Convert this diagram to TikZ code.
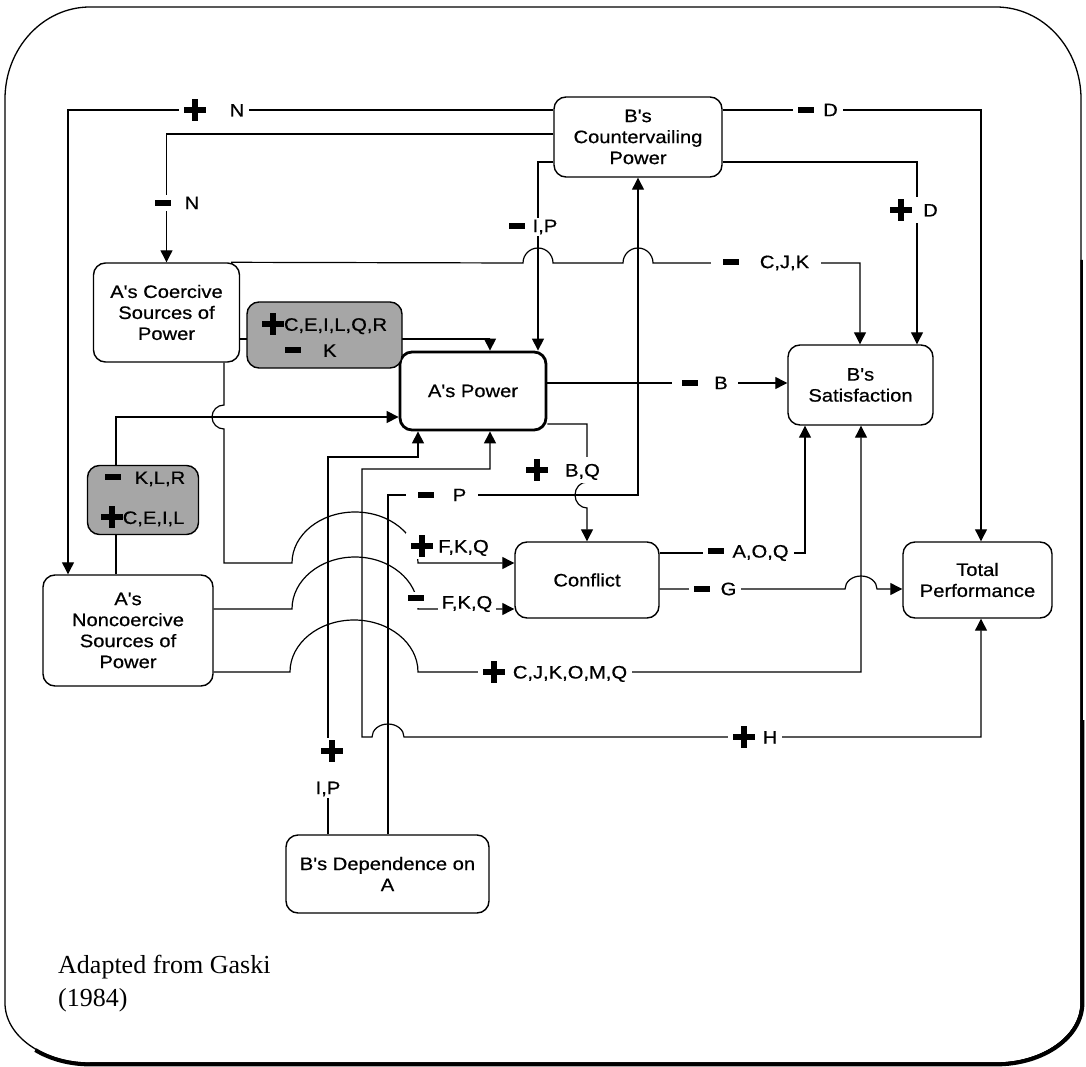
\documentclass[tikz,border=0pt]{standalone}
\usepackage{fontspec}
\usetikzlibrary{arrows.meta}
\newfontfamily\diafont[FakeStretch=1.12,FakeBold=0.6]{Liberation Sans}
\newfontfamily\notefont{Liberation Serif}
\newcommand{\pls}{\rule[3.5pt]{22pt}{6pt}\hspace{-14pt}\rule[-4.5pt]{6pt}{22pt}\hspace{8pt}}
\newcommand{\mns}{\rule[3.5pt]{16pt}{6pt}}
\tikzset{
  box/.style={draw, line width=1.4pt, rounded corners=12pt, align=center,
    inner sep=2pt, font=\diafont\fontsize{18}{21}\selectfont},
  shadedbox/.style={box, fill=black!35},
  lbl/.style={fill=white, inner xsep=5pt, inner ysep=2pt,
    font=\diafont\fontsize{18}{21}\selectfont},
  link/.style={line width=1.2pt},
  arr/.style={link, -{Triangle[length=12pt,width=12pt]}},
  arrs/.style={link, {Triangle[length=12pt,width=12pt]}-{Triangle[length=12pt,width=12pt]}}
}
\begin{document}
\begin{tikzpicture}[x=1pt,y=-1pt]
\useasboundingbox (0,0) rectangle (1086,1067);
% Draw the frame
        \draw[line width=1.3pt] (90,7) -- (996,7)
          arc[start angle=270,end angle=360,x radius=85,y radius=92]
          -- (1081,1003) arc[start angle=0,end angle=90,x radius=85,y radius=60]
          -- (90,1063) arc[start angle=90,end angle=180,x radius=85,y radius=60]
          -- (5,99) arc[start angle=180,end angle=270,x radius=85,y radius=92];
        \draw[line width=2.4pt] (1081.6,260) -- (1081.6,1003)
          arc[start angle=0,end angle=90,x radius=85.6,y radius=60.6] -- (90,1063.6);
        \draw[line width=4pt] (1082.4,720) -- (1082.4,1003)
          arc[start angle=0,end angle=90,x radius=86.4,y radius=61.4] -- (90,1064.4)
          arc[start angle=90,end angle=130,x radius=85,y radius=61.4];

% Draw the boxes
        \node[box, minimum width=168pt, minimum height=80pt] (BCP) at (638,137) {B's\\Countervailing\\Power};
        \node[box, minimum width=146pt, minimum height=99pt] (ACS) at (166.5,312.5) {A's Coercive\\Sources of\\Power};
        \node[box, line width=2.8pt, minimum width=146pt, minimum height=78pt] (AP) at (473,391) {A's Power};
        \node[box, minimum width=145pt, minimum height=80pt] (BS) at (860.5,385) {B's\\Satisfaction};
        \node[box, minimum width=144pt, minimum height=76pt] (CON) at (587,580) {Conflict};
        \node[box, minimum width=149pt, minimum height=76pt] (TP) at (977.5,580) {Total\\Performance};
        \node[box, minimum width=170pt, minimum height=111pt] (ANS) at (128,630.5) {A's\\Noncoercive\\Sources of\\Power};
        \node[box, minimum width=203pt, minimum height=78pt] (BDA) at (387.5,874) {B's Dependence on\\A};

% Draw the links
        \coordinate (cN) at (68,110);
        \draw[arr] (BCP.west |- cN) -- (cN) -- (cN |- ANS.north);
        \coordinate (cNm) at (166.5,134);
        \draw[arr] (BCP.west |- cNm) -- (cNm) -- (ACS.north);
        \coordinate (cIP) at (538,162);
        \draw[arr] (BCP.west |- cIP) -- (cIP) -- (cIP |- AP.north);
        \coordinate (cD) at (981,110);
        \draw[arr] (BCP.east |- cD) -- (cD) -- (cD |- TP.north);
        \coordinate (cDp) at (917,162);
        \draw[arr] (BCP.east |- cDp) -- (cDp) -- (cDp |- BS.north);
        \coordinate (cCJK) at (860,263);
        \draw[arr] ([xshift=-9pt]ACS.north east) -- (523,263)
          arc[start angle=180,end angle=360,radius=15] -- (623,263)
          arc[start angle=180,end angle=360,radius=15] -- (cCJK) -- (cCJK |- BS.north);
        \coordinate (cS1) at (490,339);
        \draw[arr] (ACS.east |- cS1) -- (cS1) -- (cS1 |- AP.north);
        \coordinate (cS2) at (116,417);
        \draw[arr] (cS2 |- ANS.north) -- (cS2) -- (AP.west |- cS2);
        \coordinate (cF) at (224,563);
        \draw[arr] (cF |- ACS.south) -- (224,405)
          arc[start angle=270,end angle=90,x radius=12,y radius=12] -- (cF) -- (292,563)
          arc[start angle=180,end angle=360,x radius=63,y radius=51] -- (CON.west |- cF);
        \coordinate (cFm) at (292,609);
        \draw[arr] (ANS.east |- cFm) -- (cFm)
          arc[start angle=180,end angle=360,x radius=63,y radius=52] -- (CON.west |- cFm);
        \coordinate (cM) at (861,672);
        \draw[arr] (ANS.east |- cM) -- (290,672)
          arc[start angle=180,end angle=360,x radius=64,y radius=52] -- (cM) -- (cM |- BS.south);
        \coordinate (cB) at (700,383);
        \draw[arr] (AP.east |- cB) -- (BS.west |- cB);
        \coordinate (cBQ) at (587,424);
        \draw[arr] (AP.east |- cBQ) -- (cBQ) -- (587,482)
          arc[start angle=270,end angle=90,x radius=12,y radius=13] -- (CON.north);
        \coordinate (cP) at (388,495);
        \draw[arr] (cP |- BDA.north) -- (cP) -| (BCP.south);
        \coordinate (cIPp) at (328,457);
        \draw[arr] (cIPp |- BDA.north) -- (cIPp) -| ([xshift=-55pt]AP.south);
        \coordinate (cH1) at (362,469);
        \coordinate (cH2) at (981,737);
        \draw[arrs] ([xshift=17pt]AP.south) |- (cH1) |- (372,737)
          arc[start angle=180,end angle=360,x radius=16,y radius=13] -- (cH2) -- (cH2 |- TP.south);
        \coordinate (cA) at (805,553);
        \draw[arr] (CON.east |- cA) -- (cA) -- (cA |- BS.south);
        \coordinate (cG) at (845,589);
        \draw[arr] (CON.east |- cG) -- (cG)
          arc[start angle=180,end angle=360,x radius=16,y radius=13] -- (TP.west |- cG);

% Draw the shaded boxes
        \node[shadedbox, minimum width=155pt, minimum height=66pt, align=left] (SH1) at (324.5,335)
          {\pls C,E,I,L,Q,R\\[5pt]\hspace{23pt}\mns\hspace{22pt}K};
        \node[shadedbox, minimum width=111pt, minimum height=69pt, align=left] (SH2) at (143,500)
          {\hspace{4pt}\mns\hspace{14pt}K,L,R\\[19pt]\pls C,E,I,L};

% Draw labels
        \node[lbl] (lN) at (214,110) {\pls\hspace{24pt}N};
        \node[lbl] (lNm) at (177,203) {\mns\hspace{14pt}N};
        \node[lbl] (lIPm) at (533,227) {\mns\hspace{8pt}I,P};
        \node[lbl] (lDm) at (818,110) {\mns\hspace{9pt}D};
        \node[lbl] (lDp) at (914,210) {\pls\hspace{11pt}D};
        \node[lbl, inner xsep=12pt] (lCJK) at (766,263) {\mns\hspace{21pt}C,J,K};
        \node[lbl, inner xsep=10pt] (lB) at (705,383) {\mns\hspace{16pt}B};
        \node[lbl] (lBQ) at (563,470) {\pls\hspace{17pt}B,Q};
        \node[lbl, inner xsep=12pt] (lP) at (442,495) {\mns\hspace{19pt}P};
        \node[lbl] (lFKQp) at (450,546) {\pls\hspace{5pt}F,K,Q};
        \node[lbl, inner xsep=3pt, inner ysep=3pt] (lFKQm) at (416,600) {\mns};
        \node[lbl, inner xsep=4pt] (lFKQ) at (467,604) {F,K,Q};
        \node[lbl] (lM) at (555,672) {\pls\hspace{8pt}C,J,K,O,M,Q};
        \node[lbl] (lH) at (755,737) {\pls\hspace{8pt}H};
        \node[lbl] (lAOQ) at (748,553) {\mns\hspace{9pt}A,O,Q};
        \node[lbl] (lG) at (715,589) {\mns\hspace{11pt}G};
        \node[lbl, align=center] (lIPp) at (328,768) {\pls\\[16pt]I,P};

% Source note
        \node[anchor=north west, align=left, inner sep=0pt, font=\notefont\fontsize{26}{33}\selectfont] (note) at (58,955)
          {Adapted from Gaski\\(1984)};
\end{tikzpicture}
\end{document}
